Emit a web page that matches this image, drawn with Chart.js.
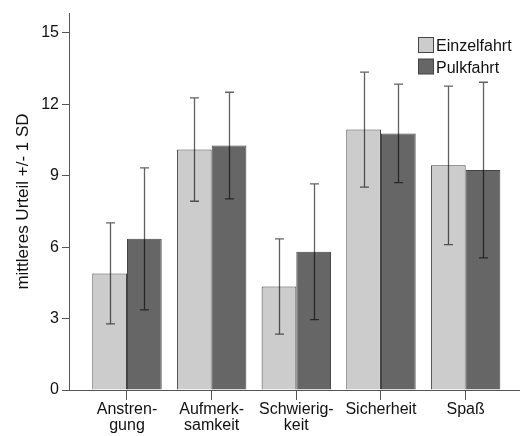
<!DOCTYPE html>
<html>
<head>
<meta charset="utf-8">
<script src="https://cdn.jsdelivr.net/npm/chart.js@4/dist/chart.umd.min.js"></script>
<style>
  html, body { margin: 0; padding: 0; background: #ffffff; }
  #wrap { width: 520px; height: 436px; position: relative; }
</style>
</head>
<body>
<div id="wrap"><canvas id="chart" width="520" height="436"></canvas></div>
<script>
// Rating dimensions (x axis), wrapped as printed
const categories = [
  ["Anstren-", "gung"],
  ["Aufmerk-", "samkeit"],
  ["Schwierig-", "keit"],
  ["Sicherheit"],
  ["Spaß"]
];

// Series names
const seriesNames = ["Einzelfahrt", "Pulkfahrt"];

// Mean ratings
const einzelMean = [4.90, 10.10, 4.35, 10.94, 9.44];
const pulkMean   = [6.35, 10.27, 5.81, 10.78, 9.24];

// Standard deviations (error bars = mean +/- 1 SD)
const einzelSD = [2.12, 2.17, 2.00, 2.42, 3.33];
const pulkSD   = [2.98, 2.24, 2.85, 2.07, 3.69];

// Y axis tick values
const yTicks = [0, 3, 6, 9, 12, 15];

const FONT = "'Liberation Sans', Arial, sans-serif";
const LIGHT = "#cccccc";
const DARK = "#666666";
const EDGE = "#444444";
const AXIS = "#555555";

const toPoints = arr => arr.map((v, i) => ({ x: i + 1, y: v }));

// Error bars drawn on top of each bar
const errorBars = {
  id: "errorBars",
  afterDatasetsDraw(chart) {
    const ctx = chart.ctx;
    const yScale = chart.scales.y;
    const sds = [einzelSD, pulkSD];
    ctx.save();
    ctx.strokeStyle = "rgba(0,0,0,0.62)";
    ctx.lineWidth = 1.3;
    chart.data.datasets.forEach((ds, di) => {
      const meta = chart.getDatasetMeta(di);
      meta.data.forEach((bar, i) => {
        const m = ds.data[i].y;
        const sd = sds[di][i];
        const x = Math.round(bar.x) + 0.5;
        const yTop = yScale.getPixelForValue(m + sd);
        const yBot = yScale.getPixelForValue(m - sd);
        ctx.beginPath();
        ctx.moveTo(x, yTop);
        ctx.lineTo(x, yBot);
        ctx.moveTo(x - 4.5, yTop);
        ctx.lineTo(x + 4.5, yTop);
        ctx.moveTo(x - 4.5, yBot);
        ctx.lineTo(x + 4.5, yBot);
        ctx.stroke();
      });
    });
    ctx.restore();
  }
};

// Legend inside the plot, upper right
const insideLegend = {
  id: "insideLegend",
  afterDraw(chart) {
    const ctx = chart.ctx;
    const fills = [LIGHT, DARK];
    ctx.save();
    ctx.font = "16px " + FONT;
    ctx.textBaseline = "alphabetic";
    ctx.textAlign = "left";
    seriesNames.forEach((name, i) => {
      const bx = 418.5, by = 37.5 + i * 21.5;
      ctx.fillStyle = fills[i];
      ctx.fillRect(bx, by, 15, 15);
      ctx.strokeStyle = EDGE;
      ctx.lineWidth = 1;
      ctx.strokeRect(bx, by, 15, 15);
      ctx.fillStyle = "#111111";
      ctx.fillText(name, 436, 51 + i * 21.5);
    });
    ctx.restore();
  }
};

new Chart(document.getElementById("chart"), {
  type: "bar",
  data: {
    datasets: [
      {
        label: seriesNames[0],
        data: toPoints(einzelMean),
        backgroundColor: LIGHT,
        borderColor: EDGE,
        borderWidth: 1
      },
      {
        label: seriesNames[1],
        data: toPoints(pulkMean),
        backgroundColor: DARK,
        borderColor: EDGE,
        borderWidth: 1
      }
    ]
  },
  options: {
    responsive: false,
    animation: false,
    events: [],
    layout: { padding: { top: 13, right: 0, bottom: 0, left: 0 } },
    datasets: { bar: { barPercentage: 1.0, categoryPercentage: 0.82 } },
    plugins: {
      legend: { display: false },
      tooltip: { enabled: false }
    },
    scales: {
      x: {
        type: "linear",
        offset: false,
        min: 0.315,
        max: 5.642,
        afterBuildTicks: s => { s.ticks = categories.map((c, i) => ({ value: i + 1 })); },
        afterFit: s => { s.height = 46; },
        grid: {
          offset: false,
          drawOnChartArea: false,
          drawTicks: true,
          tickLength: 10,
          color: AXIS
        },
        border: { display: true, color: AXIS, width: 1 },
        ticks: {
          autoSkip: false,
          maxRotation: 0,
          padding: 1,
          color: "#111111",
          font: { family: FONT, size: 16, lineHeight: 1.02 },
          callback: v => categories[Math.round(v) - 1] || ""
        }
      },
      y: {
        min: 0,
        max: 15.84,
        afterBuildTicks: s => { s.ticks = yTicks.map(v => ({ value: v })); },
        afterFit: s => { s.width = 69; },
        grid: {
          drawOnChartArea: false,
          drawTicks: true,
          tickLength: 7,
          color: AXIS
        },
        border: { display: true, color: AXIS, width: 1 },
        ticks: {
          padding: 3,
          color: "#111111",
          font: { family: FONT, size: 16 }
        },
        title: {
          display: true,
          text: "mittleres Urteil +/- 1 SD",
          color: "#111111",
          font: { family: FONT, size: 17 },
          padding: { top: 13, bottom: 0 }
        }
      }
    }
  },
  plugins: [errorBars, insideLegend]
});
</script>
</body>
</html>
